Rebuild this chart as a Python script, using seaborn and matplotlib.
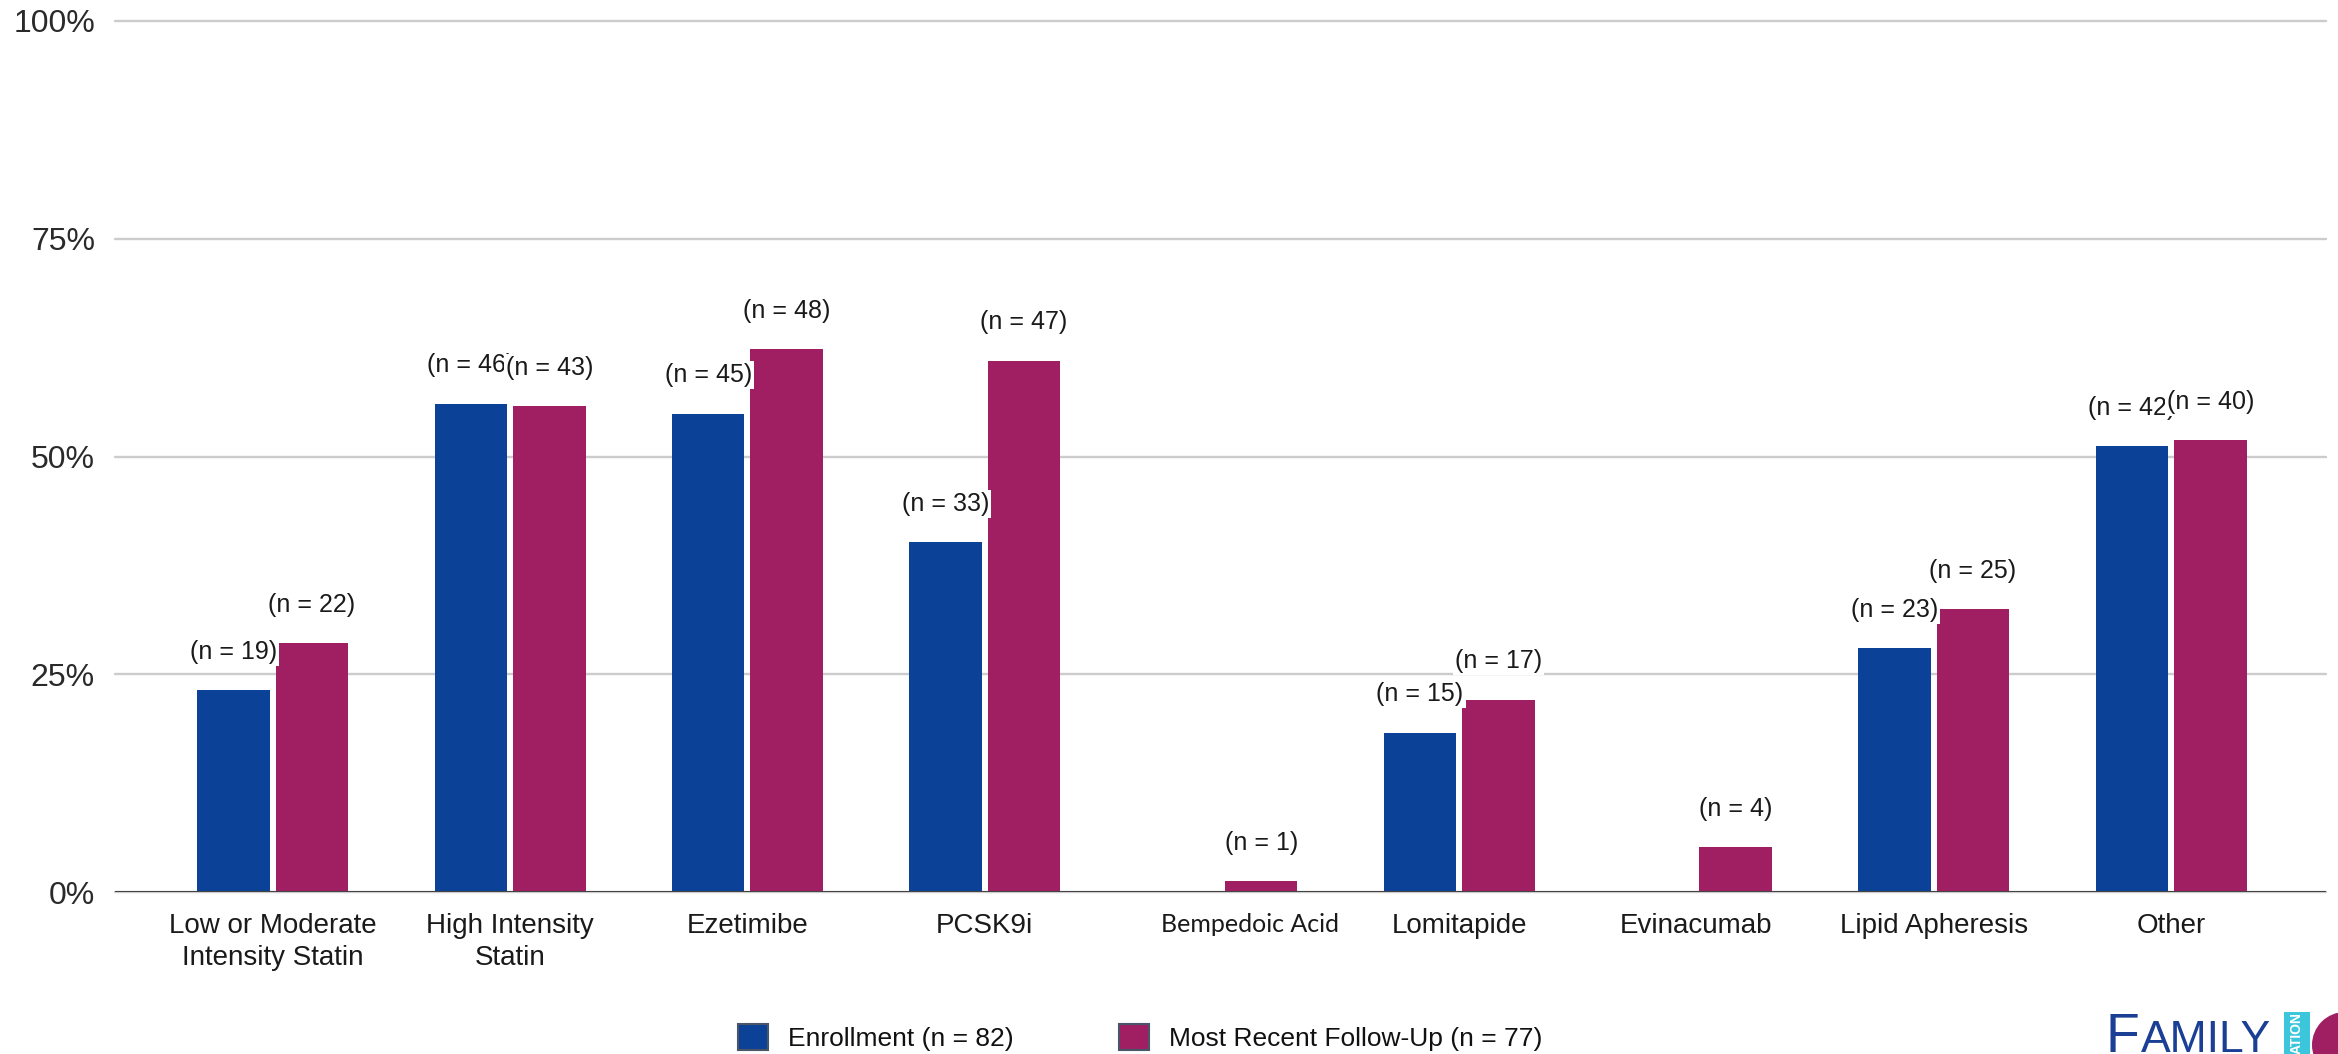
import matplotlib
matplotlib.use("Agg")
import matplotlib.pyplot as plt
import numpy as np
import pandas as pd
import seaborn as sns
from matplotlib.patches import Patch, Rectangle, Ellipse
from matplotlib.ticker import PercentFormatter, MultipleLocator
from matplotlib.transforms import ScaledTranslation

# ---------------- data ----------------
categories = [
    "Low or Moderate\nIntensity Statin",
    "High Intensity\nStatin",
    "Ezetimibe",
    "PCSK9i",
    "Bempedoic Acid",
    "Lomitapide",
    "Evinacumab",
    "Lipid Apheresis",
    "Other",
]
series_names = ["Enrollment (n = 82)", "Most Recent Follow-Up (n = 77)"]
enroll_pct = [23.2, 56.1, 54.9, 40.2, 0.0, 18.3, 0.0, 28.0, 51.2]
follow_pct = [28.6, 55.8, 62.3, 61.0, 1.3, 22.1, 5.2, 32.5, 51.9]
enroll_n = [19, 46, 45, 33, None, 15, None, 23, 42]
follow_n = [22, 43, 48, 47, 1, 17, 4, 25, 40]
colors = ["#0B4196", "#A01F63"]

# ---------------- figure ----------------
sns.set_theme(style="white")
plt.rcParams["font.family"] = ["Liberation Sans", "DejaVu Sans"]

W, H = 2338, 1054
fig = plt.figure(figsize=(W / 100, H / 100), dpi=100)
fig.patch.set_facecolor("white")
ax = fig.add_axes([115 / W, 1 - 892.3 / H, (2326 - 115) / W, (892.3 - 21) / H])

df = pd.DataFrame({
    "Category": categories * 2,
    "Series": [series_names[0]] * len(categories) + [series_names[1]] * len(categories),
    "Percent": enroll_pct + follow_pct,
})

sns.barplot(data=df, x="Category", y="Percent", hue="Series", palette=colors,
            width=0.661, gap=0.0756, saturation=1, errorbar=None, ax=ax,
            legend=False, linewidth=0, zorder=3)

ax.set_xlim(-0.665, 8.653)
ax.set_ylim(0, 100)
ax.yaxis.set_major_locator(MultipleLocator(25))
ax.yaxis.set_major_formatter(PercentFormatter(100, decimals=0))
ax.grid(axis="y", color="#cccccc", linewidth=1.7, zorder=0)
ax.grid(axis="x", visible=False)
ax.set_axisbelow(True)
for line in ax.get_ygridlines():
    line.set_clip_on(False)
for s in ax.spines.values():
    s.set_visible(False)
ax.axhline(0, color="#444444", lw=2.2, zorder=4)
ax.set_xlabel("")
ax.set_ylabel("")
ax.tick_params(axis="x", length=0, pad=15, labelsize=20, labelcolor="#1a1a1a")
ax.tick_params(axis="y", length=0, pad=14.4, labelsize=23, labelcolor="#2a2a2a")

for lbl in ax.get_xticklabels():
    lbl.set_linespacing(1.3)
bemp = ax.get_xticklabels()[4]
bemp.set_fontfamily(["Lato", "DejaVu Sans"])
bemp.set_fontsize(18)
bemp.set_transform(bemp.get_transform() + ScaledTranslation(0.28, 0, fig.dpi_scale_trans))

# value labels (enrollment first, follow-up drawn on top)
for cont, ns in zip(ax.containers, [enroll_n, follow_n]):
    for bar, n in zip(cont, ns):
        if n is None:
            continue
        x = bar.get_x() + bar.get_width() / 2
        y = bar.get_height()
        ax.annotate(f"(n = {n})", (x, y), xytext=(0, 27.7), textcoords="offset points",
                    ha="center", va="center", fontsize=18, color="#1a1a1a",
                    bbox=dict(boxstyle="square,pad=0.08", fc="white", ec="none"),
                    zorder=6)

# legend
handles = [Patch(facecolor=c, edgecolor="#4a5568", linewidth=1.5, label=n)
           for c, n in zip(colors, series_names)]
fig.legend(handles=handles, loc="center", bbox_to_anchor=(1140 / W, (H - 1037.5) / H),
           ncol=2, frameon=False, fontsize=19, handlelength=1.14, handleheight=1.17,
           handletextpad=0.76, columnspacing=3.98, borderpad=0, labelcolor="#111111")

# logo (partially cut off at the bottom-right corner, as in the source)
logo_blue = "#1a3f95"
fig.text(2106 / W, 2 / H, "F", fontsize=40, color=logo_blue, ha="left", va="baseline")
fig.text(2141 / W, 2 / H, "AMILY", fontsize=32, color=logo_blue, ha="left", va="baseline")
fig.patches.append(Rectangle((2284 / W, 0), 26 / W, 42 / H, transform=fig.transFigure,
                             facecolor="#3cc6dc", edgecolor="none"))
fig.text(2297 / W, (H - 1033) / H, "ATION", fontsize=10, fontweight="bold",
         color="white", rotation=90, ha="center", va="center")
fig.patches.append(Ellipse((2345 / W, (H - 1045) / H), 66 / W, 66 / H,
                           transform=fig.transFigure, facecolor="#A01F63", edgecolor="none"))

fig.savefig("out.png", dpi=100)
